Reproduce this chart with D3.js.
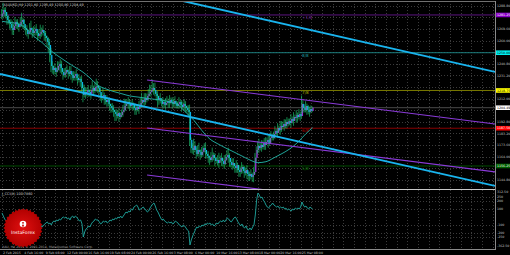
<!DOCTYPE html>
<meta charset="utf-8">
<style>
body { margin: 0; background: #000; }
svg text { font-family: "DejaVu Sans", sans-serif; }
</style>
<body>
<script src="https://d3js.org/d3.v7.min.js"></script>
<script>

// XAUUSD H4, 2 Feb - 26 Mar 2015
var firstOpen = 1280.0;
var closes = [
  1282.1,1285.4,1283.7,1280.4,1277.1,1275.5, 1273.8,1270.5,1268.8,1272.1,1275.5,1273.8,
  1271.3,1273.0,1275.5,1277.1,1273.8,1270.5, 1268.8,1265.5,1267.2,1270.5,1268.8,1266.3,
  1268.0,1269.7,1266.3,1263.9,1265.5,1267.2, 1268.8,1266.3,1263.9,1262.2,1258.9,1256.4,
  1248.1,1239.0,1235.7,1237.4,1234.1,1235.7, 1239.0,1240.7,1237.4,1234.1,1231.6,1233.3,
  1235.7,1234.1,1232.4,1234.9,1231.6,1229.1, 1230.8,1232.4,1229.1,1227.4,1228.3,1225.8,
  1220.8,1215.0,1217.5,1215.9,1219.2,1217.5, 1215.9,1219.2,1220.8,1218.4,1221.7,1222.5,
  1220.8,1217.5,1214.2,1212.5,1215.0,1210.9, 1209.2,1210.9,1207.6,1205.9,1204.3,1202.6,
  1201.0,1199.3,1197.6,1200.1,1196.8,1198.5, 1201.0,1202.6,1205.9,1207.6,1209.2,1207.6,
  1205.9,1207.6,1206.8,1204.3,1202.6,1205.1, 1203.4,1205.9,1208.4,1210.9,1209.2,1212.5,
  1210.9,1214.2,1215.9,1217.5,1219.2,1220.8, 1219.2,1215.9,1214.2,1210.9,1212.5,1210.0,
  1207.6,1209.2,1206.8,1208.4,1210.0,1208.4, 1210.9,1209.2,1207.6,1210.0,1208.4,1205.9,
  1207.6,1209.2,1206.8,1205.1,1207.6,1205.9, 1204.3,1202.6,1201.0,1177.8,1171.1,1169.5,
  1172.8,1169.5,1166.2,1169.5,1167.9,1165.4, 1167.9,1171.1,1169.5,1166.2,1164.5,1162.9,
  1161.2,1163.7,1165.4,1162.9,1160.4,1161.2, 1158.7,1161.2,1162.9,1160.4,1157.9,1161.2,
  1163.7,1165.4,1162.9,1159.6,1157.1,1158.7, 1156.2,1154.6,1157.1,1152.9,1151.3,1153.8,
  1155.4,1152.1,1150.4,1152.9,1149.6,1147.9, 1149.6,1147.1,1148.8,1151.3,1162.9,1169.5,
  1172.8,1171.1,1173.6,1172.0,1175.3,1173.6, 1176.1,1177.8,1175.3,1179.4,1181.1,1179.4,
  1182.7,1185.2,1183.6,1187.7,1186.0,1189.4, 1188.5,1191.0,1189.4,1192.7,1191.0,1193.5,
  1191.9,1195.2,1193.5,1196.8,1196.0,1198.5, 1196.8,1199.3,1197.6,1207.6,1204.3,1202.6,
  1205.9,1202.6,1201.0,1203.4,1201.8,1204.49
];
// wick lengths above / below the body, in dollars
var upWick = [
  4,6,2,4,3,4, 2,4,6,2,4,2, 4,2,4,6,2,4, 2,4,2,4,6,2, 4,2,4,2,4,6, 2,4,2,4,2,4,
  5,6,4,2,4,2, 4,2,4,6,2,4, 2,4,2,4,4,2, 4,2,4,2,4,2, 5,3,6,4,2,4, 2,4,6,2,4,6,
  4,2,4,2,6,2, 2,4,2,4,2,4, 4,2,4,2,4,2, 2,4,6,4,2,4, 4,2,4,2,4,2, 2,4,4,6,2,4,
  4,2,4,6,4,7, 4,6,2,4,2,4, 2,4,2,4,4,2, 4,2,4,2,4,2, 2,4,2,4,2,4, 4,2,4,6,2,4,
  6,4,2,4,6,2, 4,2,4,6,2,4, 2,4,6,2,4,2, 4,6,2,4,2,4, 2,4,6,4,2,4, 4,2,4,2,4,2,
  4,2,4,2,4,2, 2,4,2,4,4,3, 4,6,2,4,2,4, 4,2,4,2,4,2, 2,4,2,4,2,4, 4,2,4,2,4,2,
  2,4,2,4,2,4, 2,4,2,7,3,2, 4,2,4,2,3,1
];
var downWick = [
  2,4,4,2,4,2, 4,2,4,4,2,4, 2,4,2,4,4,2, 4,2,4,2,4,4, 2,4,2,4,2,4, 4,2,4,2,4,6,
  6,5,3,4,2,4, 2,4,4,2,4,2, 4,2,4,2,4,4, 2,4,2,4,2,4, 4,6,2,4,2,4, 2,4,2,4,2,4,
  4,2,4,4,2,4, 2,4,2,4,4,2, 4,6,4,2,4,2, 2,4,2,4,2,4, 4,2,4,2,4,4, 2,4,2,4,2,4,
  4,2,4,2,4,2, 4,2,4,6,4,2, 2,4,2,4,2,4, 4,2,4,2,4,2, 2,4,2,4,2,4, 4,2,4,5,4,3,
  4,2,4,2,4,4, 2,4,2,4,2,4, 4,2,4,2,4,2, 2,4,2,4,2,4, 4,2,4,4,2,4, 2,4,4,2,4,4,
  4,2,4,2,4,4, 4,2,4,6,2,3, 3,4,2,4,2,4, 4,2,4,2,4,2, 2,4,2,4,2,4, 4,2,4,2,4,2,
  2,4,2,4,2,4, 4,2,4,2,4,2, 2,4,2,4,2,1
];
// moving average, one reading per trading day
var maBars = [0,6,12,18,24,30,36,42,48,54,60,66,72,78,84,90,96,102,108,114,120,126,132,138,
              144,150,156,162,168,174,180,186,192,198,204,210,216,222,228,233];
var maValues = [1276.0,1275.0,1274.0,1270.0,1263.5,1258.5,1252.3,1247.3,1242.8,1238.5,
                1234.5,1229.1,1223.0,1220.0,1217.8,1216.0,1214.2,1213.3,1212.4,1211.5,
                1210.7,1209.2,1206.8,1200.5,1194.0,1185.5,1178.5,1174.5,1171.0,1167.8,
                1164.5,1161.2,1159.0,1159.8,1163.0,1166.5,1170.5,1176.0,1183.0,1188.0];
// J_CCI(8), one per bar
var cci = [
  50,12,-25,-50,-62,-37, -37,-75,-112,-87,-62,-100, -87,-50,-25,-12,-37,-62,
  -37,0,25,37,0,-25, -50,-75,-62,-87,-112,-100, -125,-112,-87,-75,-62,-87,
  -75,-100,-62,-50,-62,-37, -50,-25,-37,-12,0,-12, 0,-25,-12,-37,0,12,
  -12,12,0,-25,-50,-37, -87,-250,-187,-150,-137,-112, -125,-87,-62,-50,-25,-37,
  -37,-62,-87,-75,-50,-62, -50,-75,-62,-37,-50,-25, -37,-12,-25,0,-12,12,
  -12,12,37,62,50,75, 62,100,87,125,137,150, 125,87,100,112,125,100,
  87,62,75,112,137,162, 175,137,87,62,25,-12, -37,-25,-50,-62,-75,-62,
  -75,-62,-87,-75,-50,-62, -75,-100,-112,-125,-100,-112, -137,-162,-175,-350,-287,-237,
  -200,-162,-125,-137,-112,-125, -100,-112,-87,-100,-75,-87, -75,-100,-87,-112,-100,-75,
  -87,-62,-50,-62,-37,-62, -37,-12,-25,-50,-62,-37, -12,0,-25,-62,-87,-112,
  -87,-125,-137,-112,-150,-162, -137,-162,-125,-100,25,212, 300,275,237,250,212,187,
  150,125,112,137,150,175, 150,137,125,137,112,125, 112,125,100,112,87,100,
  87,75,100,87,112,100, 112,100,125,187,150,125, 137,112,100,125,112,100.786
];
var cciLevels = [250, 200, 100, -100, -200, -250];
var cciMax = 312.5, cciMin = -362.5;

// horizontal levels
var levelNames = ["+1/8", "8/8", "7/8", "6/8", "5/8"];
var levelPrices = [1281.25, 1250.00, 1218.75, 1187.50, 1156.25];
var levelLine = ["#5c1580", "#1b7d7d", "#7a7a00", "#8a0000", "#004d00"];
var levelText = ["#6a1f96", "#1e9a9a", "#a8a800", "#b00000", "#0a7a0a"];
var levelBox = ["#8a00c8", "#00f0f0", "#ffff00", "#ff0000", "#006000"];
var levelBoxText = ["#fff", "#000", "#000", "#fff", "#fff"];

// trend lines: [bar, price] pairs
var cyanLines = [[[135.8, 1292.8], [369.8, 1234.1]], [[-1.5, 1232.4], [369.8, 1139.7]]];
var purpleLines = [[[108.8, 1227.4], [369.8, 1191.0]], [[108.8, 1187.7], [369.8, 1151.3]],
                   [[108.8, 1148.8], [369.8, 1112.4]]];

var priceTicks = [1288.80, 1279.20, 1269.60, 1260.00, 1250.40, 1240.80, 1231.20, 1221.60,
                  1212.00, 1202.40, 1192.80, 1183.20, 1173.60, 1164.00, 1154.40, 1144.80];
var timeBars = [0,16,32,48,64,80,96,112,128,144,160,176,192,208,224];
var timeLabels = ["2 Feb 2015","4 Feb 16:00","9 Feb 08:00","12 Feb 00:00","16 Feb 16:00",
  "19 Feb 08:00","24 Feb 00:00","26 Feb 16:00","3 Mar 08:00","6 Mar 00:00","10 Mar 16:00",
  "13 Mar 08:00","18 Mar 00:00","20 Mar 16:00","25 Mar 08:00"];

var width = 510, height = 255,
    plotW = 495, mainTop = 1, mainBottom = 189, subTop = 190, subBottom = 249;

var bars = closes.map(function(c, i) {
  var o = i === 0 ? firstOpen : closes[i - 1];
  return {i: i, o: o, c: c, h: Math.max(o, c) + upWick[i], l: Math.min(o, c) - downWick[i]};
});
var last = bars[bars.length - 1];

var x = d3.scaleLinear().domain([-1.5, 369.8]).range([0, plotW]);
var y = d3.scaleLinear().domain([1137.2, 1292.8]).range([mainBottom, mainTop]);
var yc = d3.scaleLinear().domain([-400, 337.5]).range([subBottom, subTop]);

var svg = d3.select("body").append("svg")
    .attr("width", width)
    .attr("height", height)
    .style("display", "block")
    .style("background", "#000");

var defs = svg.append("defs");
defs.append("clipPath").attr("id", "main")
  .append("rect").attr("x", 0).attr("y", mainTop).attr("width", plotW).attr("height", mainBottom - mainTop);

// grid
var grid = svg.append("g").attr("stroke", "#4a4a4a").attr("stroke-dasharray", "1,2").attr("stroke-width", 0.8);
d3.range(0, 370, 8).forEach(function(b) {
  var gx = Math.round(x(b)) + 0.5;
  grid.append("line").attr("x1", gx).attr("x2", gx).attr("y1", mainTop).attr("y2", mainBottom);
  grid.append("line").attr("x1", gx).attr("x2", gx).attr("y1", subTop).attr("y2", subBottom);
});
priceTicks.forEach(function(p) {
  grid.append("line").attr("x1", 0).attr("x2", plotW)
    .attr("y1", Math.round(y(p)) + 0.5).attr("y2", Math.round(y(p)) + 0.5);
});
cciLevels.forEach(function(v) {
  grid.append("line").attr("x1", 0).attr("x2", plotW)
    .attr("y1", Math.round(yc(v)) + 0.5).attr("y2", Math.round(yc(v)) + 0.5);
});

var main = svg.append("g").attr("clip-path", "url(#main)");

// level lines
levelPrices.forEach(function(p, k) {
  main.append("line").attr("x1", 0).attr("x2", plotW)
    .attr("y1", y(p)).attr("y2", y(p))
    .attr("stroke", levelLine[k]).attr("stroke-width", 1);
  main.append("text").attr("x", 302).attr("y", y(p) + 4)
    .attr("fill", levelText[k]).attr("font-size", 4.2).text(levelNames[k]);
});
// current price line
main.append("line").attr("x1", 0).attr("x2", plotW)
  .attr("y1", y(last.c)).attr("y2", y(last.c))
  .attr("stroke", "#4a4a4a").attr("stroke-width", 1);

// candles
var candles = main.selectAll(".bar").data(bars).enter().append("g");
candles.append("line")
  .attr("x1", function(d) { return x(d.i) - 0.4; })
  .attr("x2", function(d) { return x(d.i) - 0.4; })
  .attr("y1", function(d) { return y(d.h); })
  .attr("y2", function(d) { return y(d.l); })
  .attr("stroke", "#1fd67a").attr("stroke-width", 0.6);
candles.append("rect")
  .attr("x", function(d) { return x(d.i) - 0.2; })
  .attr("width", 1.3)
  .attr("y", function(d) { return y(Math.max(d.o, d.c)); })
  .attr("height", function(d) { return Math.max(0.8, Math.abs(y(d.o) - y(d.c))); })
  .attr("fill", function(d) { return d.c >= d.o ? "#9a2fd6" : "#0ab4ee"; });

// moving average
main.append("path")
  .datum(maBars.map(function(b, k) { return [b, maValues[k]]; }))
  .attr("fill", "none").attr("stroke", "#21b5a8").attr("stroke-width", 0.9)
  .attr("d", d3.line().curve(d3.curveMonotoneX)
    .x(function(d) { return x(d[0]); }).y(function(d) { return y(d[1]); }));

// trend channels
purpleLines.forEach(function(l) {
  main.append("line").attr("x1", x(l[0][0])).attr("y1", y(l[0][1]))
    .attr("x2", x(l[1][0])).attr("y2", y(l[1][1]))
    .attr("stroke", "#8a3ad8").attr("stroke-width", 1.2);
});
cyanLines.forEach(function(l) {
  main.append("line").attr("x1", x(l[0][0])).attr("y1", y(l[0][1]))
    .attr("x2", x(l[1][0])).attr("y2", y(l[1][1]))
    .attr("stroke", "#19b4ee").attr("stroke-width", 1.8);
});

// indicator line
svg.append("path")
  .datum(cci)
  .attr("fill", "none").attr("stroke", "#1fa8a0").attr("stroke-width", 0.9)
  .attr("d", d3.line().x(function(d, i) { return x(i); }).y(function(d) { return yc(d); }));

// borders
svg.append("line").attr("x1", 0).attr("x2", plotW).attr("y1", 1.5).attr("y2", 1.5).attr("stroke", "#707070");
svg.append("line").attr("x1", 0).attr("x2", plotW).attr("y1", 189.5).attr("y2", 189.5).attr("stroke", "#c8c8c8");
svg.append("line").attr("x1", 0).attr("x2", plotW).attr("y1", 249.5).attr("y2", 249.5).attr("stroke", "#8a8a8a");
svg.append("line").attr("x1", plotW + 0.5).attr("x2", plotW + 0.5).attr("y1", 1).attr("y2", 250).attr("stroke", "#8a8a8a");

// right price axis (tick labels hidden where a level box sits, as in the terminal)
var boxPrices = levelPrices.concat([last.c]);
var ax = svg.append("g").attr("font-size", 3.2).attr("fill", "#c0c0c0");
priceTicks.forEach(function(p) {
  var covered = boxPrices.some(function(b) { return Math.abs(y(b) - y(p)) < 4.6; });
  if (covered) return;
  ax.append("text").attr("x", plotW + 2).attr("y", y(p) + 1.2).text(p.toFixed(2));
});
cciLevels.forEach(function(v) {
  ax.append("text").attr("x", plotW + 2).attr("y", yc(v) + 1.2).text(v);
});
ax.append("text").attr("x", plotW + 2).attr("y", yc(cciMax) + 1.2).text(cciMax.toFixed(2));
ax.append("text").attr("x", plotW + 2).attr("y", yc(cciMin) + 1.2).text(cciMin.toFixed(2));

function priceBox(p, fill, color) {
  svg.append("rect").attr("x", plotW + 1).attr("y", y(p) - 2.3).attr("width", 14).attr("height", 4.6).attr("fill", fill);
  svg.append("text").attr("x", plotW + 2).attr("y", y(p) + 1.2).attr("font-size", 3.2)
    .attr("fill", color).text(p.toFixed(2));
}
levelPrices.forEach(function(p, k) { priceBox(p, levelBox[k], levelBoxText[k]); });
priceBox(last.c, "#ffffff", "#000");

// time axis
var tx = svg.append("g").attr("font-size", 3.2).attr("fill", "#c0c0c0");
timeBars.forEach(function(b, k) {
  tx.append("text").attr("x", x(b) + 1).attr("y", 254).text(timeLabels[k]);
});

// captions
svg.append("text").attr("x", 3).attr("y", 5.6).attr("font-size", 3.4).attr("fill", "#d0d0d0")
  .text("XAUUSD,H4  " + [last.o, last.h, last.l, last.c].map(function(v) { return v.toFixed(2); }).join(" "));
svg.append("text").attr("x", 2).attr("y", 194.5).attr("font-size", 3.4).attr("fill", "#d0d0d0")
  .text("J_CCI(8) " + cci[cci.length - 1].toFixed(4));
svg.append("text").attr("x", 2).attr("y", 248).attr("font-size", 3.2).attr("fill", "#a0a0a0")
  .text("XAU, H4  2015  © 2001-2014, MetaQuotes Software Corp.");

// InstaForex badge
var badge = svg.append("g").attr("transform", "translate(23,228)");
var grad = defs.append("radialGradient").attr("id", "badge");
grad.append("stop").attr("offset", "0%").attr("stop-color", "#e01010");
grad.append("stop").attr("offset", "100%").attr("stop-color", "#b00000");
var star = d3.range(0, 64).map(function(k) {
  var a = k / 64 * 2 * Math.PI, r = k % 2 ? 18 : 19.6;
  return [Math.cos(a) * r, Math.sin(a) * r];
});
badge.append("path").attr("d", d3.line()(star) + "Z").attr("fill", "url(#badge)");
badge.append("circle").attr("cy", -4).attr("r", 3.3).attr("fill", "#fff");
badge.append("circle").attr("cy", -5.2).attr("r", 0.9).attr("fill", "#c00000");
badge.append("path").attr("d", "M-1.4,-1.6 L0,-4 L1.4,-1.6 Z").attr("fill", "#c00000");
badge.append("text").attr("y", 5.5).attr("text-anchor", "middle").attr("font-size", 4.6)
  .attr("fill", "#fff").text("InstaForex");

</script>
